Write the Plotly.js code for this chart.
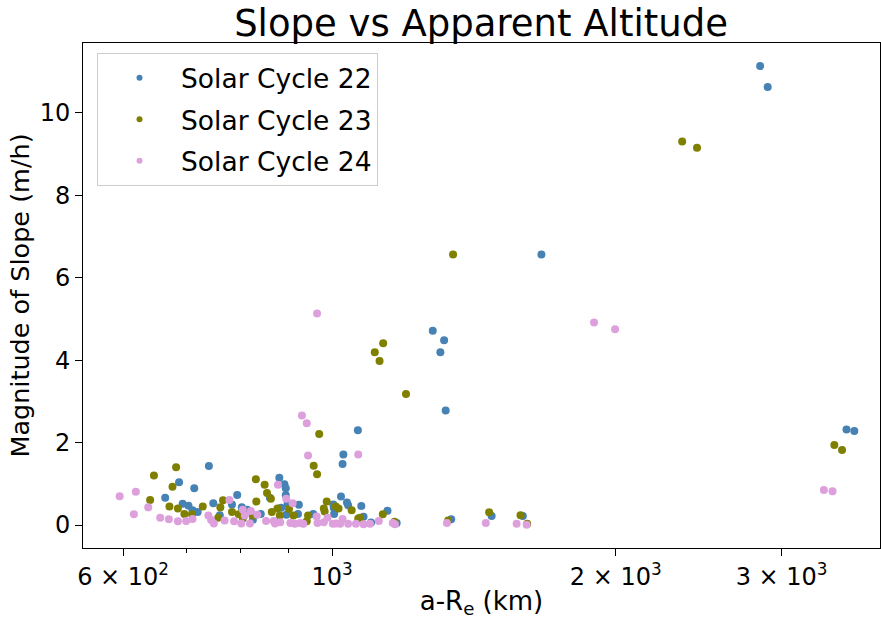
<!DOCTYPE html>
<html>
<head>
<meta charset="utf-8">
<script src="https://cdn.plot.ly/plotly-3.0.1.min.js"></script>
<style>html,body{margin:0;padding:0;background:#fff;}#chart{width:881px;height:619px;}</style>
</head>
<body>
<div id="chart"></div>
<script>
// Solar Cycle 22
const cycle22X = [2847,2900,1668,1279,1315,1303,1320,1065,1028,1026,3516,3584,740,688,714,665,694,704,711,720,793,748,783,802,813,760,840,879,890,893,893,897,922,894,920,955,1022,1037,1040,1003,1074,1080,1005,824,1145,1338,1477,1594,1171,859,883,1004,870,1100];
const cycle22Y = [11.13,10.62,6.56,4.71,4.48,4.19,2.78,2.30,1.71,1.48,2.32,2.28,1.43,1.04,0.89,0.66,0.52,0.47,0.36,0.32,0.73,0.53,0.50,0.43,0.37,0.24,0.27,1.15,0.99,0.89,0.73,0.52,0.49,0.25,0.27,0.27,0.69,0.55,0.48,0.50,0.46,0.20,0.27,0.13,0.35,0.14,0.22,0.22,0.05,0.66,0.42,0.42,0.06,0.06];
// Solar Cycle 23
const cycle23X = [2353,2440,1344,1110,1133,1123,1198,969,956,964,3413,3478,683,647,677,641,672,686,697,710,729,766,761,783,757,796,830,848,853,861,831,863,875,900,880,910,943,987,980,982,1009,1016,1049,1066,804,824,940,1132,1468,1585,1328,1611,1071,1165];
const cycle23Y = [9.30,9.15,6.56,4.19,4.41,3.98,3.18,2.21,1.44,1.23,1.94,1.82,1.40,1.20,0.93,0.61,0.45,0.40,0.27,0.26,0.45,0.60,0.43,0.32,0.18,0.26,1.11,0.98,0.78,0.64,0.57,0.32,0.40,0.39,0.23,0.23,0.23,0.57,0.40,0.33,0.45,0.40,0.36,0.16,0.16,0.23,0.09,0.26,0.31,0.24,0.11,0.03,0.18,0.08];
// Solar Cycle 24
const cycle24X = [964,1897,1997,929,940,943,1066,3327,3398,595,619,616,638,657,671,686,700,711,739,744,749,769,778,787,804,808,801,820,818,833,851,867,876,881,894,908,903,913,932,963,965,980,989,1002,1020,1026,1040,1060,1097,1121,1166,1324,1456,1570,1609,1010,1080,1160,925,870];
const cycle24Y = [5.13,4.91,4.75,2.66,2.47,1.69,1.71,0.85,0.82,0.70,0.81,0.26,0.43,0.18,0.14,0.09,0.10,0.15,0.23,0.12,0.04,0.11,0.61,0.09,0.37,0.23,0.04,0.34,0.04,0.25,0.10,0.10,0.98,0.07,0.64,0.53,0.05,0.03,0.03,0.21,0.05,0.07,0.18,0.03,0.03,0.15,0.03,0.03,0.03,0.10,0.02,0.05,0.05,0.03,0.01,0.04,0.02,0.05,0.05,0.04];

const seriesNames = ["Solar Cycle 22","Solar Cycle 23","Solar Cycle 24"];
const xTickVals = [600,1000,2000,3000];
const xTickText = ["6 \u00d7 10<sup>2</sup>","10<sup>3</sup>","2 \u00d7 10<sup>3</sup>","3 \u00d7 10<sup>3</sup>"];
const xMinorVals = [700,800,900];
const yTickVals = [0,2,4,6,8,10];

const colors = ["#4682B4","#808000","#DDA0DD"];
const xs = [cycle22X, cycle23X, cycle24X];
const ys = [cycle22Y, cycle23Y, cycle24Y];

const traces = xs.map((x,i)=>({
  type:"scatter", mode:"markers", x:x, y:ys[i], name:seriesNames[i],
  showlegend:false, hoverinfo:"skip",
  marker:{color:colors[i], size:8, line:{width:0}}
}));
// legend-only entries with smaller symbols (as in the reference legend)
const legendTraces = seriesNames.map((n,i)=>({
  type:"scatter", mode:"markers", x:[null], y:[null], name:n,
  legendgroup:"g"+i, showlegend:true,
  marker:{color:colors[i], size:6, line:{width:0}}
}));

const font = "DejaVu Sans, Arial, sans-serif";
const layout = {
  width:881, height:619,
  paper_bgcolor:"#fff", plot_bgcolor:"#fff",
  margin:{l:83, r:1, t:43, b:71},
  font:{family:font, color:"#000"},
  title:{text:"Slope vs Apparent Altitude", font:{size:37, family:font}, x:0.546, xanchor:"center", y:0.962, yanchor:"middle"},
  showlegend:true,
  legend:{x:0.0176, y:0.98, xanchor:"left", yanchor:"top", bgcolor:"rgba(255,255,255,0.8)",
    bordercolor:"#cccccc", borderwidth:1, font:{size:26.5, family:font},
    itemsizing:"trace", itemwidth:73, traceorder:"grouped", tracegroupgap:4},
  xaxis:{type:"log", range:[Math.log10(544), Math.log10(3816)],
    tickmode:"array", tickvals:xTickVals, ticktext:xTickText,
    ticks:"outside", ticklen:7, tickwidth:1, tickcolor:"#000",
    tickfont:{size:24, family:font},
    minor:{tickmode:"array", tickvals:xMinorVals, ticks:"outside", ticklen:4, tickcolor:"#000", showgrid:false},
    showgrid:false, zeroline:false, showline:true, linecolor:"#000", linewidth:1, mirror:true,
    title:{text:"a-R<sub>e</sub> (km)", font:{size:26, family:font}, standoff:6}},
  yaxis:{range:[-0.556, 11.69], tickmode:"array", tickvals:yTickVals,
    ticks:"outside", ticklen:7, tickwidth:1, tickcolor:"#000",
    tickfont:{size:24, family:font},
    showgrid:false, zeroline:false, showline:true, linecolor:"#000", linewidth:1, mirror:true,
    title:{text:"Magnitude of Slope (m/h)", font:{size:25.5, family:font}, standoff:2}}
};

Plotly.newPlot("chart", traces.concat(legendTraces), layout, {staticPlot:true, displayModeBar:false});
</script>
</body>
</html>
